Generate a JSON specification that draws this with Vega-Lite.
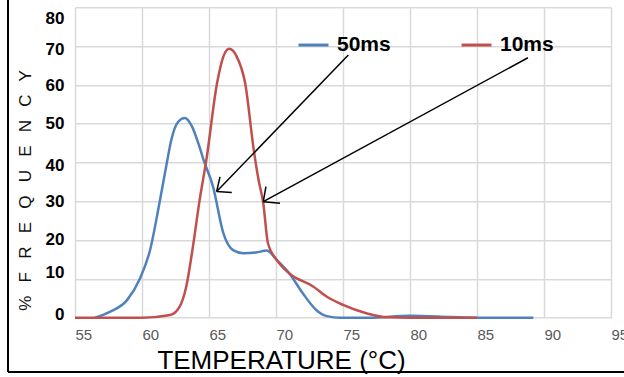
{
  "$schema": "https://vega.github.io/schema/vega-lite/v6.json",
  "autosize": {"type": "none"},
  "width": 536,
  "height": 310.4,
  "padding": {"left": 75, "top": 7.3, "right": 13, "bottom": 59.3},
  "background": "white",
  "config": {"view": {"stroke": null}},
  "datasets": {
    "curves": [
      {"series": "50ms", "temp": 56.5, "freq": 0},
      {"series": "50ms", "temp": 57.6, "freq": 1.5},
      {"series": "50ms", "temp": 58.9, "freq": 4.6},
      {"series": "50ms", "temp": 59.85, "freq": 10.1},
      {"series": "50ms", "temp": 60.6, "freq": 17.4},
      {"series": "50ms", "temp": 61.3, "freq": 29.5},
      {"series": "50ms", "temp": 61.8, "freq": 38.9},
      {"series": "50ms", "temp": 62.2, "freq": 46},
      {"series": "50ms", "temp": 62.7, "freq": 50.5},
      {"series": "50ms", "temp": 63.2, "freq": 51.5},
      {"series": "50ms", "temp": 63.7, "freq": 49.5},
      {"series": "50ms", "temp": 64.2, "freq": 45},
      {"series": "50ms", "temp": 64.6, "freq": 40.6},
      {"series": "50ms", "temp": 65.3, "freq": 33.8},
      {"series": "50ms", "temp": 66.07, "freq": 21.8},
      {"series": "50ms", "temp": 66.8, "freq": 17.4},
      {"series": "50ms", "temp": 67.56, "freq": 16.6},
      {"series": "50ms", "temp": 68.5, "freq": 16.8},
      {"series": "50ms", "temp": 69.3, "freq": 17.3},
      {"series": "50ms", "temp": 70.05, "freq": 14.9},
      {"series": "50ms", "temp": 71.0, "freq": 11.4},
      {"series": "50ms", "temp": 72.0, "freq": 6.3},
      {"series": "50ms", "temp": 73.0, "freq": 2.0},
      {"series": "50ms", "temp": 73.8, "freq": 0.4},
      {"series": "50ms", "temp": 74.8, "freq": 0},
      {"series": "50ms", "temp": 77, "freq": 0},
      {"series": "50ms", "temp": 80, "freq": 0.5},
      {"series": "50ms", "temp": 83, "freq": 0.2},
      {"series": "50ms", "temp": 85, "freq": 0},
      {"series": "50ms", "temp": 89.2, "freq": 0},
      {"series": "10ms", "temp": 55, "freq": 0},
      {"series": "10ms", "temp": 60, "freq": 0},
      {"series": "10ms", "temp": 62.1, "freq": 0.7},
      {"series": "10ms", "temp": 62.8, "freq": 2.8},
      {"series": "10ms", "temp": 63.3, "freq": 8},
      {"series": "10ms", "temp": 63.8, "freq": 18.3},
      {"series": "10ms", "temp": 64.3, "freq": 30.3},
      {"series": "10ms", "temp": 64.8, "freq": 40.6},
      {"series": "10ms", "temp": 65.6, "freq": 60.4},
      {"series": "10ms", "temp": 66.07, "freq": 67.3},
      {"series": "10ms", "temp": 66.5, "freq": 69.3},
      {"series": "10ms", "temp": 67.07, "freq": 67.3},
      {"series": "10ms", "temp": 67.7, "freq": 60.4},
      {"series": "10ms", "temp": 68.35, "freq": 43},
      {"series": "10ms", "temp": 68.7, "freq": 35.5},
      {"series": "10ms", "temp": 69.05, "freq": 29.5},
      {"series": "10ms", "temp": 69.4, "freq": 19.2},
      {"series": "10ms", "temp": 70.05, "freq": 14.9},
      {"series": "10ms", "temp": 71.0, "freq": 11.4},
      {"series": "10ms", "temp": 72.8, "freq": 8},
      {"series": "10ms", "temp": 73.8, "freq": 5.4},
      {"series": "10ms", "temp": 75.0, "freq": 3.3},
      {"series": "10ms", "temp": 76.8, "freq": 1.1},
      {"series": "10ms", "temp": 78.3, "freq": 0.1},
      {"series": "10ms", "temp": 80, "freq": 0},
      {"series": "10ms", "temp": 85, "freq": 0}
    ],
    "arrows": [
      {"temp": 75.4, "freq": 67.7, "temp2": 65.57, "freq2": 32.5},
      {"temp": 65.57, "freq": 32.5, "temp2": 65.82, "freq2": 36.3},
      {"temp": 65.57, "freq": 32.5, "temp2": 66.7, "freq2": 32.3},
      {"temp": 88.8, "freq": 67.0, "temp2": 69.05, "freq2": 29.9},
      {"temp": 69.05, "freq": 29.9, "temp2": 69.25, "freq2": 33.8},
      {"temp": 69.05, "freq": 29.9, "temp2": 70.3, "freq2": 29.5}
    ],
    "frame": [
      {"temp": 50, "freq": -14, "temp2": 50, "freq2": 82},
      {"temp": 50, "freq": -14, "temp2": 97, "freq2": -14}
    ]
  },
  "encoding": {
    "x": {
      "field": "temp", "type": "quantitative",
      "scale": {"domain": [55, 95], "nice": false, "zero": false},
      "axis": {
        "values": [55, 60, 65, 70, 75, 80, 85, 90, 95],
        "title": "TEMPERATURE (°C)",
        "titleFont": "Liberation Sans", "titleFontSize": 26, "titleFontWeight": "normal", "titleColor": "black",
        "titleX": 206, "titleY": 51.3, "titleAlign": "center", "titleBaseline": "alphabetic", "titleAnchor": null,
        "labelFont": "Liberation Sans", "labelFontSize": 15, "labelColor": "#595959",
        "labelAlign": "left", "labelDx": -2, "labelBaseline": "alphabetic", "labelPadding": 22,
        "ticks": false, "tickSize": 0, "domain": false,
        "grid": true, "gridColor": "#d9d9d9", "gridWidth": 1.5, "labelFlush": false, "labelOverlap": false
      }
    },
    "y": {
      "field": "freq", "type": "quantitative",
      "scale": {"domain": [0, 80], "nice": false},
      "axis": {
        "values": [0, 10, 20, 30, 40, 50, 60, 70, 80],
        "title": "%\u2002 F\u2002 R\u2002 E\u2002 Q\u2002 U\u2002 E\u2002 N\u2002 C\u2002 Y",
        "titleFont": "Liberation Sans", "titleFontSize": 17, "titleFontWeight": "normal", "titleColor": "#111111",
        "titleAngle": 270, "titleX": -49.3, "titleY": 182.7, "titleAlign": "center", "titleBaseline": "middle",
        "labelFont": "Liberation Sans", "labelFontSize": 17, "labelFontWeight": "bold", "labelColor": "black",
        "labelPadding": 11, "labelBaseline": "middle",
        "labelOffset": {"expr": "datum.value === 80 ? 11 : datum.value === 70 ? 3 : datum.value === 60 ? 1 : datum.value === 40 ? 3 : datum.value === 20 ? -1 : datum.value === 10 ? -6 : datum.value === 0 ? -3 : 0"},
        "ticks": false, "tickSize": 0, "domain": false,
        "grid": true, "gridColor": "#d9d9d9", "gridWidth": 1.5, "labelFlush": false, "labelOverlap": false
      }
    }
  },
  "layer": [
    {
      "data": {"name": "curves"},
      "mark": {"type": "line", "interpolate": "monotone", "strokeWidth": 2.5},
      "encoding": {
        "color": {
          "field": "series", "type": "nominal",
          "scale": {"domain": ["50ms", "10ms"], "range": ["#4f81bd", "#c0504d"]},
          "legend": {
            "title": null, "orient": "none", "legendX": 222, "legendY": 21,
            "direction": "horizontal", "symbolType": "stroke", "symbolSize": 900, "symbolStrokeWidth": 3,
            "labelFont": "Liberation Sans", "labelFontSize": 21, "labelFontWeight": "bold", "labelColor": "black",
            "labelOffset": 7, "columnPadding": 64, "padding": 0, "labelLimit": 0
          }
        }
      }
    },
    {
      "data": {"name": "arrows"},
      "mark": {"type": "rule", "color": "black", "strokeWidth": 1.5},
      "encoding": {
        "x2": {"field": "temp2"},
        "y2": {"field": "freq2"}
      }
    },
    {
      "data": {"name": "frame"},
      "mark": {"type": "rule", "color": "black", "strokeWidth": 2, "clip": false},
      "encoding": {
        "x2": {"field": "temp2"},
        "y2": {"field": "freq2"}
      }
    }
  ]
}
